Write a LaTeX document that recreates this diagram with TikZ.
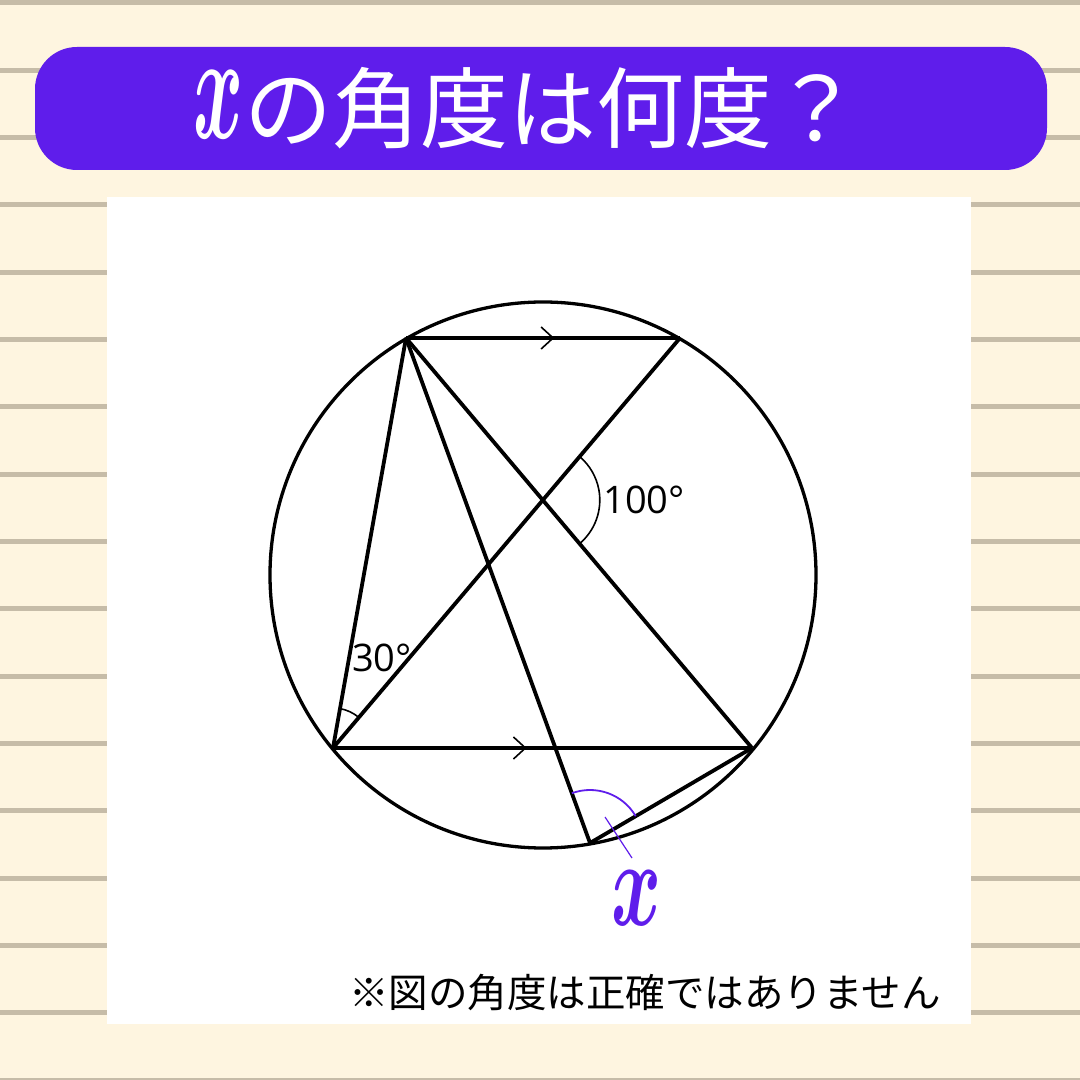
\documentclass[tikz,border=0pt]{standalone}
\usepackage{fontspec}
\usepackage{graphicx}
\setmainfont{Open Sans}
\newfontfamily\cjk{Noto Sans CJK JP}
\usetikzlibrary{angles,decorations.markings}
\definecolor{bgcream}{HTML}{FEF5E0}
\definecolor{ruleline}{HTML}{C6BCA8}
\definecolor{titlepurple}{HTML}{5F1DEB}
\tikzset{
  fig/.style={line width=3.8pt, black, line join=round},
  chev/.style={postaction={decorate}, decoration={markings, mark=at position #1 with {\draw[line width=1.6pt] (-6pt,11pt)--(6pt,0pt)--(-6pt,-11pt);}}},
  anglemark/.style={draw, line width=1.6pt},
  lbl/.style={font=\fontsize{38}{40}\selectfont, inner sep=0pt}
}
\begin{document}
\begin{tikzpicture}[x=1pt,y=1pt]
\useasboundingbox (0,0) rectangle (1080,1080);
\fill[bgcream] (0,0) rectangle (1080,1080);
\foreach \k in {0,...,16} {
  \fill[ruleline] (0,{1080-3-\k*67.33-2.5}) rectangle (1080,{1080-3-\k*67.33+2.5});
}
% title
\node[fill=titlepurple, rounded corners=42pt, minimum width=1012pt, minimum height=123pt, inner sep=0pt] (title) at (541,971.5) {};
\node[text=white, inner sep=0pt] (titletext) at (527,972) {\raisebox{3pt}{\scalebox{7.6}[15.2]{\boldmath$x$}}\cjk\fontsize{88}{88}\selectfont の角度は何度？};
% panel
\fill[white] (107,56) rectangle (971,883);
% geometry
\coordinate (O) at (543,505);
\coordinate (A) at (406,742);
\coordinate (B) at (680,742);
\coordinate (C) at (333,332);
\coordinate (D) at (752,332);
\coordinate (E) at (590,237);
\coordinate (X) at (intersection of A--D and B--C);
\draw[fig, line width=3.3pt] (O) circle (273);
\draw[fig, chev=0.515] (A) -- (B);
\draw[fig, chev=0.445] (C) -- (D);
\draw[fig] (A) -- (C);
\draw[fig] (A) -- (D);
\draw[fig] (A) -- (E);
\draw[fig] (B) -- (C);
\draw[fig] (D) -- (E);
\pic[anglemark, angle radius=57pt] {angle = D--X--B};
\pic[anglemark, angle radius=40pt] {angle = B--C--A};
\pic[draw=titlepurple, line width=1.8pt, angle radius=53pt] {angle = D--E--A};
\coordinate (p1) at (605,263);
\coordinate (p2) at (632,222);
\draw[titlepurple, line width=1.2pt] (p1) -- (p2);
\node[lbl] (l100) at (644,580) {100°};
\node[lbl] (l30) at (382,422) {30°};
\node[text=titlepurple, inner sep=0pt] (lx) at (637,182) {\scalebox{7.6}[12.3]{\boldmath$x$}};
\node[inner sep=0pt] (note) at (645,87) {\cjk\fontsize{39.5}{40}\selectfont ※図の角度は正確ではありません};
\end{tikzpicture}
\end{document}
